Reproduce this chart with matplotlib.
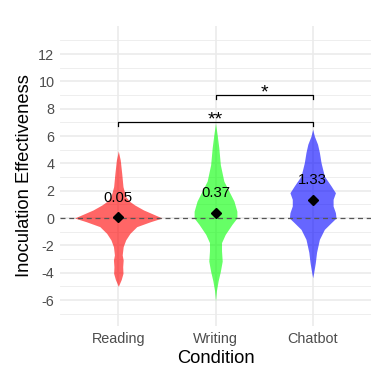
import numpy as np
import matplotlib
matplotlib.use("Agg")
import matplotlib.pyplot as plt

plt.rcParams['font.family'] = ['Liberation Sans', 'DejaVu Sans']
plt.rcParams['axes.unicode_minus'] = False

categories = ["Reading", "Writing", "Chatbot"]
colors = ["#FF0000", "#00FF00", "#0000FF"]
means = [0.05, 0.37, 1.33]
mean_labels = ["0.05", "0.37", "1.33"]

# violin density profiles: y values and half-widths (in category units)
reading_y = [4.9, 4.24, 3.27, 2.3, 1.56, 1.2, 0.95, 0.59, 0.22, 0.0, -0.27, -0.63, -1.12,
             -1.6, -2.1, -2.7, -3.07, -3.56, -4.05, -4.5, -5.0]
reading_w = [0.0, 0.02, 0.035, 0.048, 0.076, 0.12, 0.17, 0.26, 0.38, 0.45, 0.33, 0.19, 0.12,
             0.076, 0.05, 0.04, 0.05, 0.045, 0.048, 0.03, 0.0]
writing_y = [6.95, 6.1, 5.15, 3.9, 2.7, 1.98, 1.24, 0.5, 0.0, -0.46, -1.2, -1.8, -2.4,
             -3.15, -3.9, -4.6, -5.3, -6.07]
writing_w = [0.0, 0.017, 0.034, 0.05, 0.086, 0.137, 0.19, 0.22, 0.22, 0.17, 0.10, 0.062,
             0.062, 0.069, 0.05, 0.027, 0.01, 0.0]
chatbot_y = [6.5, 6.0, 5.4, 4.8, 4.05, 3.07, 2.34, 1.85, 1.37, 0.88, 0.39, 0.0, -0.34,
             -0.83, -1.56, -2.5, -3.27, -4.0, -4.37]
chatbot_w = [0.0, 0.017, 0.05, 0.069, 0.086, 0.12, 0.19, 0.234, 0.21, 0.21, 0.234, 0.24,
             0.19, 0.12, 0.069, 0.04, 0.027, 0.01, 0.0]
profiles = [(reading_y, reading_w), (writing_y, writing_w), (chatbot_y, chatbot_w)]

# significance brackets: (start, end, height, label)
brackets = [(1, 3, 7.0, "**"), (2, 3, 9.0, "*")]

fig = plt.figure(figsize=(3.84, 3.84), dpi=100)
ax = fig.add_axes([60/384, 1-326/384, 311/384, 300/384])

ax.set_xlim(0.4, 3.6)
ax.set_ylim(-7.9, 14.05)

# grid
for v in range(-7, 14, 2):
    ax.axhline(v, color="#EBEBEB", lw=0.6, zorder=0)
for v in range(-6, 13, 2):
    ax.axhline(v, color="#EBEBEB", lw=1.2, zorder=0)
for i in range(1, 4):
    ax.axvline(i, color="#EBEBEB", lw=1.2, zorder=0)

ax.axhline(0, color="#555555", lw=0.9, ls=(0, (4, 3)), zorder=3)

for i, ((py, pw), c) in enumerate(zip(profiles, colors)):
    x = i + 1
    py = np.array(py)
    pw = np.array(pw)
    ax.fill_betweenx(py, x - pw, x + pw, color=c, alpha=0.6, lw=0, zorder=2)
    ax.plot(x, means[i], marker="D", color="black", markersize=5, ls="none", zorder=4)
    ax.text(x, means[i] + 1.45, mean_labels[i], ha="center", va="center",
            fontsize=10.7, color="black", zorder=5)

for (a, b, h, lab) in brackets:
    ax.plot([a, a, b, b], [h - 0.3, h, h, h - 0.3], color="black", lw=0.9, zorder=5)
    ax.text((a + b) / 2, h - 0.15, lab, ha="center", va="baseline", fontsize=14, zorder=5)

ax.set_xticks([1, 2, 3])
ax.set_xticklabels(categories)
ax.set_yticks(range(-6, 13, 2))
ax.tick_params(length=0, labelsize=10.4, labelcolor="#4D4D4D", pad=4)
for s in ax.spines.values():
    s.set_visible(False)
ax.set_xlabel("Condition", fontsize=13.2, labelpad=3)
ax.set_ylabel("Inoculation Effectiveness", fontsize=13.2, labelpad=4)

fig.savefig("out.png", dpi=100)
